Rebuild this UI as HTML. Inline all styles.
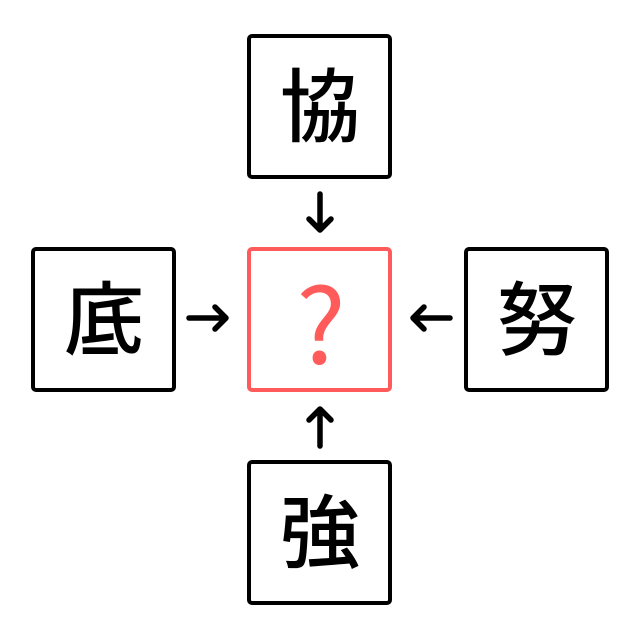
<!DOCTYPE html>
<html><head><meta charset="utf-8"><style>
body{margin:0;background:#fff;width:640px;height:640px;overflow:hidden}
svg{display:block}
text{font-family:"Liberation Sans","Noto Sans CJK JP",sans-serif;text-anchor:middle;dominant-baseline:central}
</style></head><body>
<svg width="640" height="640" viewBox="0 0 640 640">
<g fill="none" stroke="#000" stroke-width="4" stroke-linejoin="round">
<rect x="249" y="36" width="141" height="141" rx="3"/>
<rect x="33" y="249" width="141" height="141" rx="3"/>
<rect x="466" y="249" width="141" height="141" rx="3"/>
<rect x="249" y="462" width="141" height="141" rx="3"/>
</g>
<rect x="249" y="249" width="141" height="141" rx="3" fill="none" stroke="#ff5b5b" stroke-width="4"/>
<g stroke="#000" stroke-width="5.5" fill="none" stroke-linecap="round" stroke-linejoin="round">
<path d="M320 194V230M309 219L320 230L331 219"/>
<path d="M189 318H226M215 307L226 318L215 329"/>
<path d="M450 318H413M424 307L413 318L424 329"/>
<path d="M320 446V409M309 420L320 409L331 420"/>
</g>
<g font-size="80" fill="#000" font-weight="500">
<text x="320" y="108">協</text>
<text x="104" y="321">底</text>
<text x="537" y="321">努</text>
<text x="320" y="534">強</text>
</g>
<text x="321" y="318" font-size="104" fill="#ff5b5b" font-weight="400" style='font-family:"Noto Sans CJK JP",sans-serif'>?</text>
</svg>
</body></html>
